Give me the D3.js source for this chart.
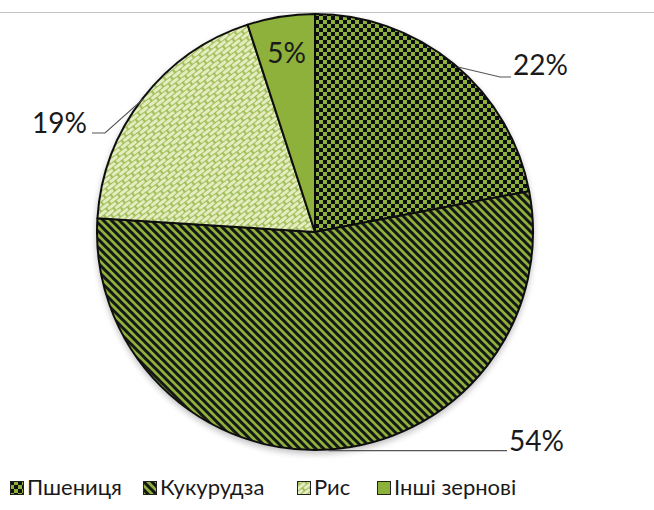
<!DOCTYPE html>
<html>
<head>
<meta charset="utf-8">
<script src="https://cdnjs.cloudflare.com/ajax/libs/d3/7.8.5/d3.min.js"></script>
<style>
  body { margin: 0; background: #fff; }
  svg { display: block; font-family: Lato, "Open Sans", sans-serif; }
</style>
</head>
<body>
<svg id="chart" width="654" height="510"></svg>
<script>
// chart data
const categories = ["Пшениця", "Кукурудза", "Рис", "Інші зернові"];
const shares = [22, 54, 19, 5];
const labels = ["22%", "54%", "19%", "5%"];

const svg = d3.select("#chart");
const width = 654, height = 510;
const cx = 315, cy = 232, radius = 218;
const green = "#8db13a";

// patterns
const defs = svg.append("defs");

// soft shadow under the pie
const sh = defs.append("filter").attr("id", "shadow")
  .attr("x", "-10%").attr("y", "-10%").attr("width", "120%").attr("height", "125%");
sh.append("feGaussianBlur").attr("in", "SourceAlpha").attr("stdDeviation", 3);
sh.append("feOffset").attr("dy", 3).attr("result", "off");
sh.append("feComponentTransfer").append("feFuncA").attr("type", "linear").attr("slope", 0.25);
const mg = sh.append("feMerge");
mg.append("feMergeNode");
mg.append("feMergeNode").attr("in", "SourceGraphic");

// checkerboard for wheat
const chk = defs.append("pattern").attr("id", "p0")
  .attr("width", 8).attr("height", 8).attr("patternUnits", "userSpaceOnUse");
chk.append("rect").attr("width", 8).attr("height", 8).attr("fill", green);
chk.append("rect").attr("width", 4).attr("height", 4).attr("fill", "#111");
chk.append("rect").attr("x", 4).attr("y", 4).attr("width", 4).attr("height", 4).attr("fill", "#111");

// downward diagonal stripes for corn
const str = defs.append("pattern").attr("id", "p1")
  .attr("width", 8).attr("height", 8).attr("patternUnits", "userSpaceOnUse");
str.append("rect").attr("width", 8).attr("height", 8).attr("fill", green);
str.append("path").attr("d", "M-2,-2 L10,10 M-2,6 L2,10 M6,-2 L10,2")
  .attr("stroke", "#151515").attr("stroke-width", 3);

// diagonal brick for rice
const brk = defs.append("pattern").attr("id", "p2")
  .attr("width", 12).attr("height", 8).attr("patternUnits", "userSpaceOnUse")
  .attr("patternTransform", "rotate(-38)");
brk.append("rect").attr("width", 12).attr("height", 8).attr("fill", "#a3bf5c");
[[1, 0.9], [-5, 4.9], [7, 4.9]].forEach(([x, y]) => {
  brk.append("rect").attr("x", x).attr("y", y).attr("width", 10).attr("height", 3.1)
    .attr("rx", 1).attr("fill", "#e4edc0");
});

const fills = ["url(#p0)", "url(#p1)", "url(#p2)", green];

// top rule
svg.append("line")
  .attr("x1", 0).attr("x2", width).attr("y1", 12.5).attr("y2", 12.5)
  .attr("stroke", "#c4c4c4").attr("stroke-width", 1);

// pie
const pie = d3.pie().sort(null).value(d => d)(shares);
const arc = d3.arc().innerRadius(0).outerRadius(radius);

const g = svg.append("g").attr("transform", `translate(${cx},${cy})`)
  .attr("filter", "url(#shadow)");
g.selectAll("path.slice")
  .data(pie)
  .enter()
  .append("path")
    .attr("class", "slice")
    .attr("d", arc)
    .attr("fill", (d, i) => fills[i])
    .attr("stroke", "#111")
    .attr("stroke-width", 2)
    .attr("stroke-linejoin", "round");

// label helpers
const mid = d => (d.startAngle + d.endAngle) / 2;
const edge = (d, r) => [Math.sin(mid(d)) * r, -Math.cos(mid(d)) * r];

const lbl = svg.append("g").attr("font-size", 28).attr("fill", "#1a1a1a");

// 22% wheat, elbow leader
{
  const d = pie[0];
  const p = edge(d, radius);
  const a = [cx + p[0] + 4, cy + p[1] + 3];
  svg.append("polyline")
    .attr("points", [a, [500, 77], [511, 77]].map(q => q.join(",")).join(" "))
    .attr("fill", "none").attr("stroke", "#555").attr("stroke-width", 1.2);
  lbl.append("text").attr("x", 513).attr("y", 75).text(labels[0]);
}
// 54% corn, horizontal leader from bottom of arc
{
  const d = pie[1];
  const p = edge(d, radius);
  svg.append("polyline")
    .attr("points", [[cx + p[0], cy + p[1] + 1], [507, cy + p[1] + 1]].map(q => q.join(",")).join(" "))
    .attr("fill", "none").attr("stroke", "#555").attr("stroke-width", 1.2);
  lbl.append("text").attr("x", 509).attr("y", 451).text(labels[1]);
}
// 19% rice
{
  const d = pie[2];
  const p = edge(d, radius);
  svg.append("polyline")
    .attr("points", [[cx + p[0], cy + p[1] + 1], [105, 133], [92, 133]].map(q => q.join(",")).join(" "))
    .attr("fill", "none").attr("stroke", "#555").attr("stroke-width", 1.2);
  lbl.append("text").attr("x", 87).attr("y", 133).attr("text-anchor", "end").text(labels[2]);
}
// 5% inside
{
  const d = pie[3];
  const p = edge(d, radius * 0.83);
  lbl.append("text").attr("x", cx + p[0]).attr("y", cy + p[1] + 10)
    .attr("text-anchor", "middle").text(labels[3]);
}

// legend
const legendX = [10, 143, 297, 377];
const leg = svg.append("g").attr("font-size", 22).attr("fill", "#1a1a1a");
categories.forEach((c, i) => {
  const item = leg.append("g").attr("transform", `translate(${legendX[i]},481)`);
  item.append("rect").attr("x", 0.5).attr("y", 0.5).attr("width", 13).attr("height", 13)
    .attr("fill", fills[i]).attr("stroke", "#222").attr("stroke-width", 1);
  item.append("text").attr("x", 17).attr("y", 14).text(c);
});
</script>
</body>
</html>
